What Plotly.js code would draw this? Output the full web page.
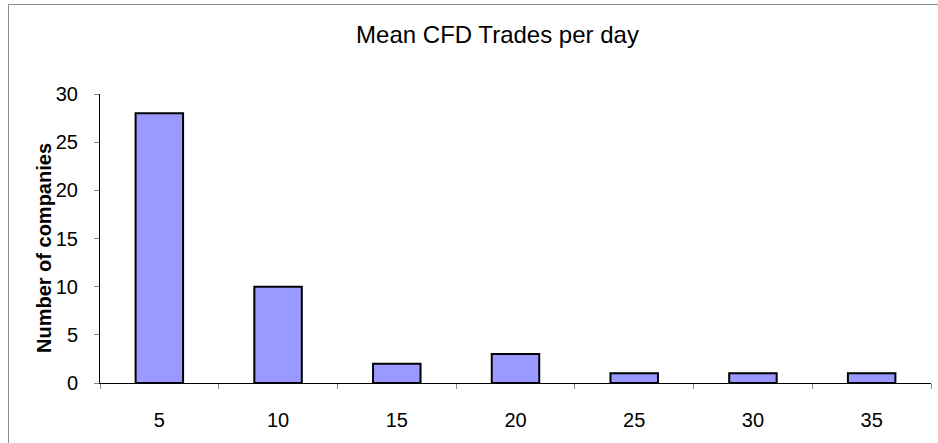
<!DOCTYPE html>
<html>
<head>
<meta charset="utf-8">
<script src="https://cdn.plot.ly/plotly-3.0.1.min.js"></script>
<style>
html,body{margin:0;padding:0;background:#fff;overflow:hidden;}
#wrap{position:relative;width:938px;height:443px;}
#frame{position:absolute;left:8px;top:4px;width:1000px;height:1000px;border-top:1px solid #8c8c8c;border-left:1px solid #8c8c8c;pointer-events:none;z-index:5;}
#chart{position:absolute;left:0;top:0;width:938px;height:443px;}
</style>
</head>
<body>
<div id="wrap"><div id="chart"></div><div id="frame"></div></div>
<script>
var categories = ['5','10','15','20','25','30','35'];
var counts = [28, 10, 2, 3, 1, 1, 1];
var titleText = 'Mean CFD Trades per day';
var yTitle = 'Number of companies';

var trace = {
  type: 'bar',
  x: categories,
  y: counts,
  marker: {color: '#9999FF', line: {color: '#000000', width: 2}},
  hoverinfo: 'none'
};

var layout = {
  width: 938, height: 443,
  margin: {l: 100, r: 7, t: 94, b: 60, pad: 0},
  paper_bgcolor: '#ffffff',
  plot_bgcolor: '#ffffff',
  font: {family: 'Liberation Sans, Arial, sans-serif', size: 20, color: '#000'},
  showlegend: false,
  bargap: 0.6,
  title: {text: titleText, font: {size: 24, color: '#000'}, xref: 'container', yref: 'container', x: 0.5304, xanchor: 'center', y: 0.921, yanchor: 'middle'},
  xaxis: {
    type: 'category',
    showline: true, linecolor: '#000', linewidth: 1,
    showgrid: false, zeroline: false,
    ticks: 'outside', tickson: 'boundaries', ticklen: 5, tickcolor: '#888', tickwidth: 1,
    ticklabelstandoff: 19,
    tickfont: {size: 20, color: '#000'}
  },
  yaxis: {
    range: [0, 30], dtick: 5, tick0: 0,
    showline: true, linecolor: '#000', linewidth: 1,
    showgrid: false, zeroline: false,
    ticks: 'outside', ticklen: 5, tickcolor: '#888', tickwidth: 1,
    ticklabelstandoff: 12,
    tickfont: {size: 20, color: '#000'}
  },
  annotations: [{
    text: '<b>' + yTitle + '</b>',
    xref: 'paper', yref: 'paper',
    x: -0.0674, y: 0.467,
    xanchor: 'center', yanchor: 'middle',
    textangle: -90, showarrow: false,
    font: {size: 20, color: '#000'}
  }]
};

Plotly.newPlot('chart', [trace], layout, {staticPlot: true, displayModeBar: false});
</script>
</body>
</html>
